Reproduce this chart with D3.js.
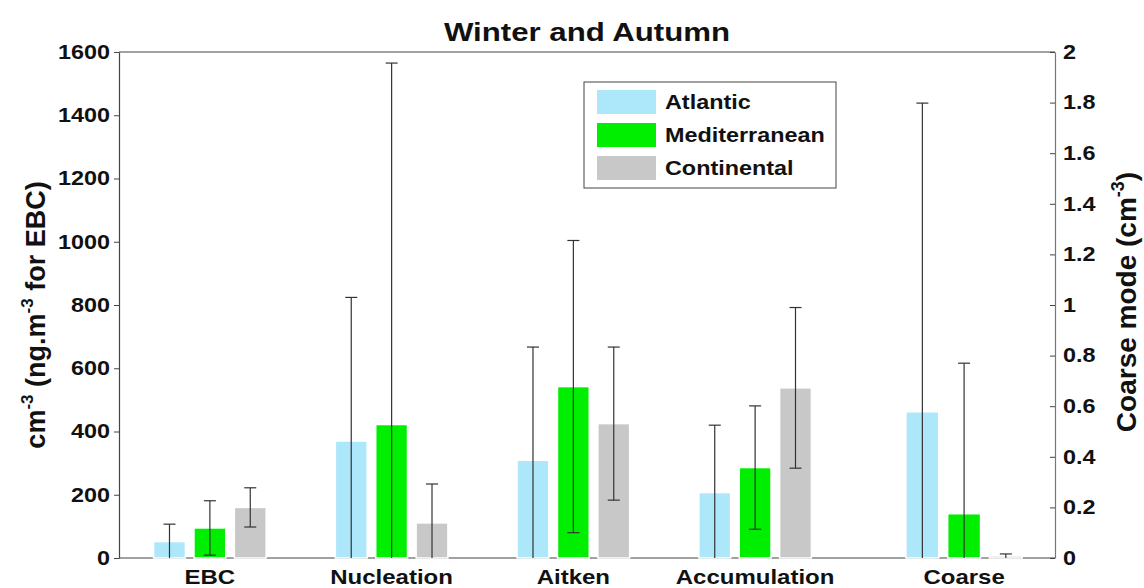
<!DOCTYPE html>
<html>
<head>
<meta charset="utf-8">
<script src="https://cdn.jsdelivr.net/npm/d3@7"></script>
<style>
  body { margin: 0; background: white; }
  svg { font-family: "Liberation Sans", Arial, sans-serif; font-weight: bold; }
  /* the reference text is a little stretched sideways */
  .wide { transform-box: fill-box; transform: scaleX(1.2); }
  .wide.mid { transform-origin: center; }
  .wide.end { transform-origin: right center; }
  .wide.start { transform-origin: left center; }
</style>
</head>
<body>
<svg width="1144" height="588"></svg>
<script>
// data
var categories = ["EBC", "Nucleation", "Aitken", "Accumulation", "Coarse"];
var seriesNames = ["Atlantic", "Mediterranean", "Continental"];
var atlanticMean = [52, 370, 309, 207, 0.578];
var atlanticSd   = [55, 454, 358, 213, 1.22];
var medMean      = [95, 422, 542, 286, 0.175];
var medSd        = [86, 1143, 462, 195, 0.595];
var contMean     = [160, 111, 425, 538, 0.008];
var contSd       = [62, 123, 242, 254, 0.008];
var leftTicks  = [0, 200, 400, 600, 800, 1000, 1200, 1400, 1600];
var rightTicks = [0, 0.2, 0.4, 0.6, 0.8, 1, 1.2, 1.4, 1.6, 1.8, 2];
var colors = ["#ade8fa", "#00ee00", "#c8c8c8"];

var svg = d3.select("svg"),
    pLeft = 119, pRight = 1055, pTop = 52, pBottom = 558;

// scales: first four groups on the left axis, coarse on the right one
var xLeft = d3.scaleLinear().domain([0.5, 5.65]).range([pLeft, pRight]);
var xRight = d3.scaleLinear().domain([0.5, 5.5]).range([pLeft, 1058]);
var yLeft = d3.scaleLinear().domain([0, 1600]).range([pBottom, pTop]);
var yRight = d3.scaleLinear().domain([0, 2]).range([pBottom, pTop]);

var means = [atlanticMean, medMean, contMean];
var sds = [atlanticSd, medSd, contSd];
var offset = 0.2222, barW = 0.175;

// build one record per bar
var bars = [];
categories.forEach(function(c, i) {
    var onRight = (c == "Coarse");
    var x = onRight ? xRight : xLeft;
    var y = onRight ? yRight : yLeft;
    seriesNames.forEach(function(s, k) {
        var pos = i + 1 + (k - 1) * offset;
        bars.push({
            cat: c, series: k,
            x0: x(pos - barW / 2), x1: x(pos + barW / 2), xc: x(pos),
            yTop: y(means[k][i]),
            eHi: y(means[k][i] + sds[k][i]),
            eLo: y(Math.max(0, means[k][i] - sds[k][i]))
        });
    });
});

// top and bottom lines
svg.append("line").attr("x1", pLeft).attr("x2", pRight).attr("y1", pTop).attr("y2", pTop)
    .style("stroke", "#444").style("stroke-width", 1.2);
svg.append("line").attr("x1", pLeft).attr("x2", pRight).attr("y1", pBottom).attr("y2", pBottom)
    .style("stroke", "#444").style("stroke-width", 1.2);

// bars
svg.append("g").selectAll("rect")
    .data(bars).enter()
    .append("rect")
    .attr("x", function(d) { return d.x0; })
    .attr("y", function(d) { return d.yTop; })
    .attr("width", function(d) { return d.x1 - d.x0; })
    .attr("height", function(d) { return Math.max(0, pBottom - d.yTop); })
    .style("fill", function(d) { return colors[d.series]; })
    .style("stroke", "white")
    .style("stroke-width", 1.5);

// error bars
var eb = svg.append("g").selectAll("g")
    .data(bars).enter()
    .append("g")
    .style("stroke", "#333")
    .style("stroke-width", 1.2);
eb.append("line")
    .attr("x1", function(d) { return d.xc; }).attr("x2", function(d) { return d.xc; })
    .attr("y1", function(d) { return d.eHi; }).attr("y2", function(d) { return d.eLo; });
eb.append("line")
    .attr("x1", function(d) { return d.xc - 6; }).attr("x2", function(d) { return d.xc + 6; })
    .attr("y1", function(d) { return d.eHi; }).attr("y2", function(d) { return d.eHi; });
eb.filter(function(d) { return d.eLo < pBottom - 0.5; })
    .append("line")
    .attr("x1", function(d) { return d.xc - 6; }).attr("x2", function(d) { return d.xc + 6; })
    .attr("y1", function(d) { return d.eLo; }).attr("y2", function(d) { return d.eLo; });

// axes
var axL = svg.append("g").attr("transform", "translate(" + pLeft + ",0)")
    .call(d3.axisLeft(yLeft).tickValues(leftTicks).tickSize(5).tickPadding(4).tickSizeOuter(0)
        .tickFormat(d3.format("d")));
var axR = svg.append("g").attr("transform", "translate(" + pRight + ",0)")
    .call(d3.axisRight(yRight).tickValues(rightTicks).tickSize(-5).tickPadding(8).tickSizeOuter(0)
        .tickFormat(function(d) { return String(+d.toFixed(1)); }));
[axL, axR].forEach(function(a) {
    a.selectAll("text").style("font-size", "19.5px").style("font-weight", "bold").style("fill", "#111")
        .style("font-family", "Liberation Sans, Arial, sans-serif");
    a.select(".domain").style("stroke", "#444").style("stroke-width", 1.2);
    a.selectAll(".tick line").style("stroke", "#444");
});
axL.selectAll("text").attr("class", "wide end");
axR.selectAll("text").attr("class", "wide start");
axR.select(".domain").style("stroke", "#777");

// category labels
svg.append("g").selectAll("text")
    .data(categories).enter()
    .append("text")
    .attr("class", "wide mid")
    .attr("x", function(d, i) { return d == "Coarse" ? xRight(i + 1) : xLeft(i + 1); })
    .attr("y", 584)
    .attr("text-anchor", "middle")
    .style("font-size", "20px")
    .style("fill", "#111")
    .text(function(d) { return d; });

// title
svg.append("text").attr("class", "wide mid")
    .attr("x", 587).attr("y", 41).attr("text-anchor", "middle")
    .style("font-size", "26px").style("fill", "#111").text("Winter and Autumn");

// y labels
var yl = svg.append("text")
    .attr("transform", "translate(45,315) rotate(-90)")
    .attr("text-anchor", "middle")
    .style("font-size", "27px").style("fill", "#111");
yl.append("tspan").text("cm");
yl.append("tspan").attr("dy", -12).style("font-size", "17px").text("-3");
yl.append("tspan").attr("dy", 12).text(" (ng.m");
yl.append("tspan").attr("dy", -12).style("font-size", "17px").text("-3");
yl.append("tspan").attr("dy", 12).text(" for EBC)");

var yr = svg.append("text")
    .attr("transform", "translate(1136,302) rotate(-90)")
    .attr("text-anchor", "middle")
    .style("font-size", "28px").style("fill", "#111");
yr.append("tspan").text("Coarse mode (cm");
yr.append("tspan").attr("dy", -12).style("font-size", "18px").text("-3");
yr.append("tspan").attr("dy", 12).text(")");

// legend
var lg = svg.append("g").attr("transform", "translate(584,82)");
lg.append("rect").attr("width", 252).attr("height", 106)
    .style("fill", "white").style("stroke", "#444").style("stroke-width", 1);
var item = lg.selectAll("g.item").data(seriesNames).enter()
    .append("g").attr("class", "item")
    .attr("transform", function(d, i) { return "translate(13," + (8 + i * 33) + ")"; });
item.append("rect").attr("width", 59).attr("height", 24)
    .style("fill", function(d, i) { return colors[i]; });
item.append("text").attr("class", "wide start")
    .attr("x", 68).attr("y", 19)
    .style("font-size", "19.5px").style("fill", "#111")
    .text(function(d) { return d; });
</script>
</body>
</html>
